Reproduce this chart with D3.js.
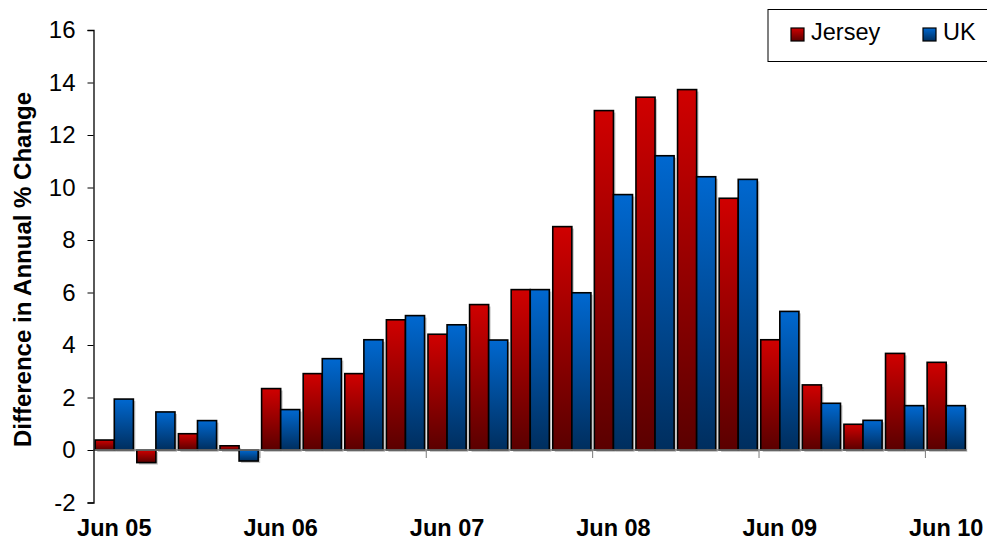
<!DOCTYPE html>
<html>
<head>
<meta charset="utf-8">
<script src="https://cdn.jsdelivr.net/npm/d3@7"></script>
<style>
  html, body { margin: 0; padding: 0; background: #fff; }
  svg { display: block; font-family: Arial, "Liberation Sans", sans-serif; }
</style>
</head>
<body>
<svg id="chart" width="987" height="550"></svg>
<script>
// Quarterly categories, Jun 2005 to Jun 2010
const quarters = ["Jun 05","Sep 05","Dec 05","Mar 06","Jun 06","Sep 06","Dec 06","Mar 07",
                  "Jun 07","Sep 07","Dec 07","Mar 08","Jun 08","Sep 08","Dec 08","Mar 09",
                  "Jun 09","Sep 09","Dec 09","Mar 10","Jun 10"];
const seriesNames = ["Jersey", "UK"];
const jersey = [0.38, -0.48, 0.62, 0.16, 2.34, 2.91, 2.91, 4.96, 4.41, 5.54, 6.11, 8.51,
                12.93, 13.44, 13.73, 9.59, 4.20, 2.48, 0.98, 3.68, 3.34];
const uk     = [1.94, 1.45, 1.12, -0.42, 1.54, 3.48, 4.20, 5.12, 4.77, 4.19, 6.11, 5.99,
                9.73, 11.21, 10.41, 10.31, 5.28, 1.78, 1.13, 1.69, 1.69];
const yTicks = [-2, 0, 2, 4, 6, 8, 10, 12, 14, 16];
const xLabels = ["Jun 05","Jun 06","Jun 07","Jun 08","Jun 09","Jun 10"];
const yTitle = "Difference in Annual % Change";

const svg = d3.select("#chart");
const plotL = 93.5, plotR = 967, plotT = 30, plotB = 502.5;
const fontFamily = "Arial, 'Liberation Sans', sans-serif";

const x = d3.scaleBand().domain(quarters).range([plotL, plotR]).paddingInner(0).paddingOuter(0);
const xs = d3.scaleBand().domain(seriesNames).range([0, x.bandwidth()]).paddingInner(0).paddingOuter(0.09);
const y = d3.scaleLinear().domain([-2, 16]).range([plotB, plotT]);

// Vertical gradients for each series
const defs = svg.append("defs");
const grads = [
  { id: "gJersey", c0: "#d00000", c1: "#5a0000" },
  { id: "gUK", c0: "#0068d0", c1: "#002e5e" }
];
grads.forEach(g => {
  const lgd = defs.append("linearGradient").attr("id", g.id)
    .attr("x1", 0).attr("y1", 0).attr("x2", 0).attr("y2", 1);
  lgd.append("stop").attr("offset", "0%").attr("stop-color", g.c0);
  lgd.append("stop").attr("offset", "100%").attr("stop-color", g.c1);
});

const rows = quarters.map((q, i) => ({ q, values: [
  { s: "Jersey", v: jersey[i], fill: "url(#gJersey)" },
  { s: "UK", v: uk[i], fill: "url(#gUK)" }
]}));

// Bars (with a soft grey shadow behind each)
const groups = svg.append("g").selectAll("g").data(rows).join("g")
  .attr("transform", d => `translate(${x(d.q)},0)`);

groups.selectAll("rect.shadow").data(d => d.values).join("rect")
  .attr("class", "shadow")
  .attr("x", d => xs(d.s) + 2)
  .attr("y", d => Math.min(y(d.v), y(0)) + 2)
  .attr("width", xs.bandwidth())
  .attr("height", d => Math.abs(y(d.v) - y(0)))
  .attr("fill", "#9a9a9a").attr("opacity", 0.55);

groups.selectAll("rect.bar").data(d => d.values).join("rect")
  .attr("class", "bar")
  .attr("x", d => xs(d.s))
  .attr("y", d => Math.min(y(d.v), y(0)))
  .attr("width", xs.bandwidth())
  .attr("height", d => Math.abs(y(d.v) - y(0)))
  .attr("fill", d => d.fill)
  .attr("stroke", "#000").attr("stroke-width", 1.6);

// Zero line / category axis
svg.append("line")
  .attr("x1", plotL).attr("x2", plotR).attr("y1", y(0)).attr("y2", y(0))
  .attr("stroke", "#7a7a7a").attr("stroke-width", 1.5);

// Category ticks every four quarters
const tickIdx = d3.range(4, quarters.length, 4);
svg.append("g").selectAll("line").data(tickIdx).join("line")
  .attr("x1", i => x(quarters[i])).attr("x2", i => x(quarters[i]))
  .attr("y1", y(0)).attr("y2", y(0) + 8)
  .attr("stroke", "#7a7a7a").attr("stroke-width", 1);

// Year labels under the first quarter of each year
svg.append("g").selectAll("text").data(xLabels).join("text")
  .attr("x", d => x(d) + x.bandwidth() / 2)
  .attr("y", 536)
  .attr("text-anchor", "middle")
  .attr("font-family", fontFamily)
  .attr("font-size", 23.5).attr("font-weight", "bold")
  .attr("fill", "#000")
  .text(d => d);

// Value axis
const yAxis = d3.axisLeft(y).tickValues(yTicks).tickSize(6).tickPadding(12)
  .tickFormat(d => String(d));
const ya = svg.append("g").attr("transform", `translate(${plotL},0)`).call(yAxis);
ya.select(".domain").attr("stroke", "#000").attr("stroke-width", 1.3);
ya.selectAll(".tick line").attr("stroke", "#000");
ya.selectAll(".tick text").attr("font-size", 24).attr("fill", "#000")
  .attr("font-family", fontFamily);

// Axis title
svg.append("text")
  .attr("transform", `translate(31,${(89 + 450) / 2}) rotate(-90)`)
  .attr("text-anchor", "middle")
  .attr("font-family", fontFamily)
  .attr("font-size", 24).attr("font-weight", "bold")
  .attr("fill", "#000")
  .text(yTitle);

// Legend
const lg = svg.append("g");
lg.append("rect").attr("x", 768).attr("y", 9.5).attr("width", 240).attr("height", 52)
  .attr("fill", "#fff").attr("stroke", "#000").attr("stroke-width", 1);
const legendItems = [
  { name: seriesNames[0], fill: "url(#gJersey)", x: 791 },
  { name: seriesNames[1], fill: "url(#gUK)", x: 923 }
];
const li = lg.selectAll("g").data(legendItems).join("g")
  .attr("transform", d => `translate(${d.x},28)`);
li.append("rect").attr("width", 13).attr("height", 13)
  .attr("fill", d => d.fill).attr("stroke", "#000").attr("stroke-width", 1.2);
li.append("text").attr("x", 20).attr("y", 12)
  .attr("font-family", fontFamily)
  .attr("font-size", 23.5).attr("fill", "#000")
  .text(d => d.name);
</script>
</body>
</html>
